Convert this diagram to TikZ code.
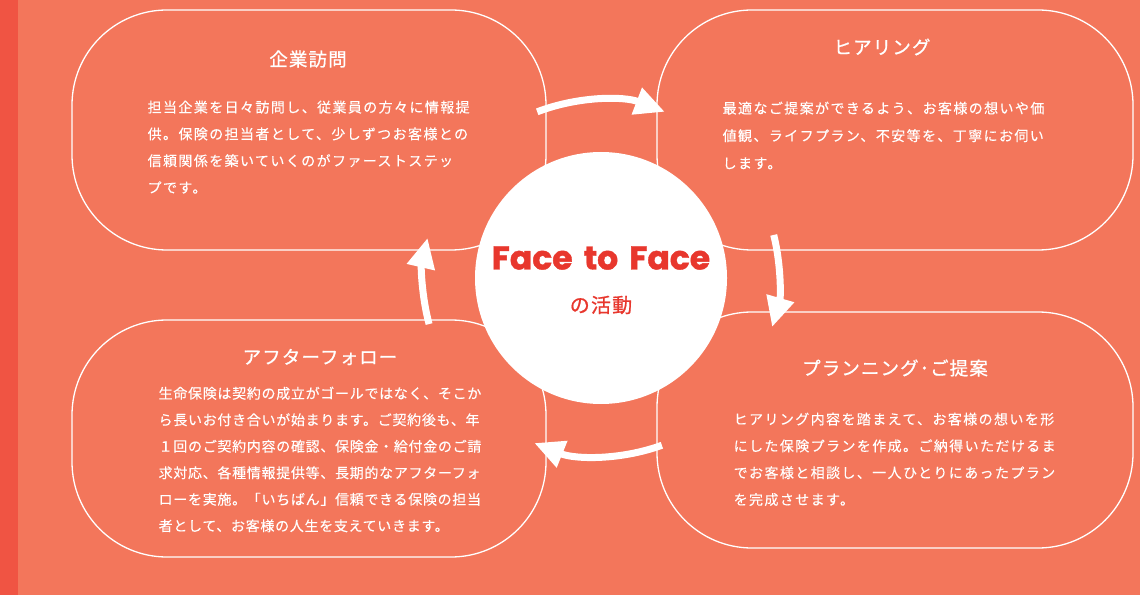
\documentclass[tikz,border=0pt]{standalone}
\usepackage{fontspec}
\setmainfont{Noto Sans CJK JP}
\newfontfamily\facefont{Poppins}[WordSpace=1.6, FakeBold=1.2]
\newfontfamily\bodyfont{Noto Sans CJK JP}[LetterSpace=10, FakeBold=0.2]
\newfontfamily\tightfont{Noto Sans CJK JP}[LetterSpace=5, FakeBold=0.2]
\newfontfamily\headfont{Noto Sans CJK JP}[FakeBold=0.8,LetterSpace=6]
\usepackage{tikz}
\usetikzlibrary{arrows.meta,positioning}
\definecolor{salmon}{HTML}{F3765B}
\definecolor{edgered}{HTML}{F05443}
\definecolor{facered}{HTML}{E8372D}

\begin{document}
\begin{tikzpicture}[x=1pt, y=1pt, line width=1.3pt,
   head/.style={text=white, inner sep=0pt, font=\headfont\fontsize{18.5}{20}\selectfont},
   body/.style={text=white, inner sep=0pt, anchor=north west, align=left, font=\bodyfont\fontsize{14}{26.8}\selectfont},
   cycle arrow/.style={white, line width=7pt, -{Triangle[length=30pt,width=27pt]}}]
   \useasboundingbox (0,0) rectangle (1140,595);
   \fill[salmon] (0,0) rectangle (1140,595);
   \fill[edgered] (0,0) rectangle (18,595);
   \begin{scope}[every node/.style={draw=white, rounded corners=95pt, minimum width=474pt, minimum height=240pt}]
    \node (visit) at (309,465) {};
    \node (hearing) at (895,465) [minimum width=476pt] {};
    \node (follow) at (309,156.5) [minimum height=237pt] {};
    \node (plan) at (895,165) [minimum width=476pt, minimum height=236pt] {};
   \end{scope}
   \node[circle, fill=white, minimum size=252pt] (face) at (601,317) {};
   % step titles
   \node[head] (visithead) at (308,536) {企業訪問};
   \node[head] (hearinghead) at (882,548) {ヒアリング};
   \node[head] (followhead) at (320,238) {アフターフォロー};
   \node[head] (planhead) at (895,227) {プランニング･ご提案};
   % step texts
   \node[body] (visittext) at (147,495) {担当企業を日々訪問し、従業員の方々に情報提\\%
    供。保険の担当者として、少しずつお客様との\\%
    信頼関係を築いていくのがファーストステッ\\%
    プです。};
   \node[body] (hearingtext) at (722,494) [font=\bodyfont\fontsize{14}{27.5}\selectfont] {最適なご提案ができるよう、お客様の想いや価\\%
    値観、ライフプラン、不安等を、丁寧にお伺い\\%
    します。};
   \node[body] (followtext) at (158,209) [font=\tightfont\fontsize{14}{26.5}\selectfont] {生命保険は契約の成立がゴールではなく、そこか\\%
    ら長いお付き合いが始まります。ご契約後も、年\\%
    １回のご契約内容の確認、保険金・給付金のご請\\%
    求対応、各種情報提供等、長期的なアフターフォ\\%
    ローを実施。「いちばん」信頼できる保険の担当\\%
    者として、お客様の人生を支えていきます。};
   \node[body] (plantext) at (733,183) {ヒアリング内容を踏まえて、お客様の想いを形\\%
    にした保険プランを作成。ご納得いただけるま\\%
    でお客様と相談し、一人ひとりにあったプラン\\%
    を完成させます。};
   % centre
   \node[text=facered, font=\facefont\bfseries\fontsize{33}{36}\selectfont] (facetitle) at (601,337) {Face to Face};
   \node[text=facered, font=\headfont\fontsize{20}{22}\selectfont] (facesub) at (601,290) {の活動};
   % arrows round the centre
   \foreach \from/\to in {111/69, 14/-16, -70/-112, 195/167}
    \draw[cycle arrow] (face.center) ++(\from:178) arc[start angle=\from, end angle=\to, radius=178];
\end{tikzpicture}
\end{document}
